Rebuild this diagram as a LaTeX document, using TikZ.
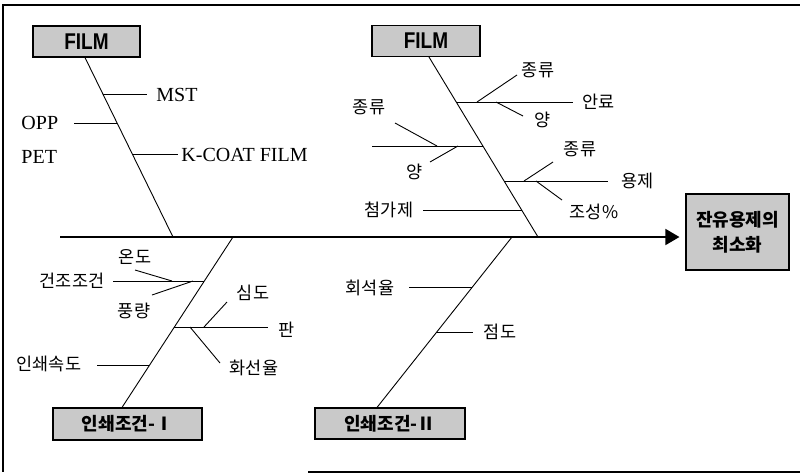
\documentclass[tikz,border=0pt]{standalone}
\usepackage{fontspec}
\setmainfont{Liberation Serif}
\newfontfamily\kr{Noto Sans CJK KR}
\newfontfamily\boxsans{Liberation Sans}
\usetikzlibrary{arrows.meta}
\begin{document}
\begin{tikzpicture}[x=1pt,y=-1pt,
  line width=0.9pt,
  kl/.style={font=\kr\fontsize{17.5}{19}\selectfont, inner sep=0pt},
  ll/.style={font=\fontsize{20}{22}\selectfont, inner sep=0pt},
  gbox/.style={draw, line width=1.1pt, fill=gray!42, inner sep=0pt},
  filmtxt/.style={font=\boxsans\bfseries\fontsize{19}{20}\selectfont},
  krbtxt/.style={font=\kr\bfseries\fontsize{18}{25}\selectfont},
  bone/.style={line width=0.9pt},
  spine/.style={line width=1.5pt, -{Triangle[length=14pt,width=16pt]}},
  frame/.style={line width=1.5pt}]
\useasboundingbox (0,0) rectangle (800,475);
% frame
\draw[frame] (800,5) -- (3,5) -- (3,472);
\draw[frame] (308,472) -- (800,472);
% boxes
\node[gbox, filmtxt, minimum width=107pt, minimum height=31pt] (f1) at (86.5,41.5) {\scalebox{1}[1.2]{FILM}};
\node[gbox, filmtxt, minimum width=108pt, minimum height=31pt] (f2) at (426,41) {\scalebox{1}[1.2]{FILM}};
\node[gbox, minimum width=103pt, minimum height=76pt, align=center, krbtxt] (res) at (737.5,232) {잔유용제의\\최소화};
\node[gbox, minimum width=149pt, minimum height=32pt, krbtxt] (p1) at (127.5,424) {인쇄조건-Ⅰ};
\node[gbox, minimum width=150pt, minimum height=31pt, krbtxt] (p2) at (390,423.5) {인쇄조건-Ⅱ};
% spine
\coordinate (sp0) at (60,237);
\draw[spine, shorten >=6pt] (sp0) -- (res.west |- sp0);
% bone ends on spine
\coordinate (s1) at (173,237);
\coordinate (s2) at (538,237);
\coordinate (s3) at (233,237);
\coordinate (s4) at (512,237);
\draw[bone] ([xshift=-1.5pt]f1.south) -- (s1);
\draw[bone] ([xshift=3pt]f2.south) -- (s2);
\draw[bone] ([xshift=-5.5pt]p1.north) -- (s3);
\draw[bone] ([xshift=-13pt]p2.north) -- (s4);

% ---- bone 1 (FILM left)
\node[ll, anchor=west] (mst) at (156,95) {MST};
\node[ll, anchor=west] (opp) at (21,123) {OPP};
\node[ll, anchor=west] (pet) at (21,157) {PET};
\node[ll, anchor=west] (kcoat) at (181,155) {K-COAT FILM};
\coordinate (b1a) at (103.1,94); \coordinate (e1a) at (147,94);
\coordinate (b1b) at (117.3,123); \coordinate (e1b) at (74,123);
\coordinate (b1c) at (132.4,154); \coordinate (e1c) at (178,154);
\draw (b1a) -- (e1a);
\draw (e1b) -- (b1b);
\draw (b1c) -- (e1c);

% ---- bone 2 (FILM middle)
% upper sub-branch
\coordinate (b2a) at (456.3,102); \coordinate (e2a) at (573,102);
\node[kl, anchor=west] (anryo) at (582,102) {안료};
\draw (b2a) -- (e2a);
\coordinate (d2a1) at (477,102); \coordinate (d2a1e) at (517,75);
\node[kl] (jong1) at (538,70) {종류};
\draw (d2a1) -- (d2a1e);
\coordinate (d2a2) at (496,102); \coordinate (d2a2e) at (523,116);
\node[kl] (yang1) at (543,120) {양};
\draw (d2a2) -- (d2a2e);
% middle sub-branch
\coordinate (b2b) at (482.9,146); \coordinate (e2b) at (372,146);
\draw (e2b) -- (b2b);
\coordinate (d2b1) at (437,146); \coordinate (d2b1e) at (395,123);
\node[kl] (jong2) at (369,107) {종류};
\draw (d2b1) -- (d2b1e);
\coordinate (d2b2) at (458,146); \coordinate (d2b2e) at (430,162);
\node[kl] (yang2) at (415,172) {양};
\draw (d2b2) -- (d2b2e);
% lower sub-branch
\coordinate (b2c) at (504.1,181); \coordinate (e2c) at (608,181);
\node[kl, anchor=west] (yongje) at (621,181) {용제};
\draw (b2c) -- (e2c);
\coordinate (d2c1) at (524,181); \coordinate (d2c1e) at (553,162);
\node[kl] (jong3) at (580,149) {종류};
\draw (d2c1) -- (d2c1e);
\coordinate (d2c2) at (536,181); \coordinate (d2c2e) at (562,200);
\node[kl] (joseong) at (594,212) {조성\%};
\draw (d2c2) -- (d2c2e);
% additive
\coordinate (b2d) at (521.7,210); \coordinate (e2d) at (423,210);
\node[kl] (cheom) at (389,210) {첨가제};
\draw (e2d) -- (b2d);

% ---- bone 3 (print cond I)
\coordinate (b3a) at (204.3,281); \coordinate (e3a) at (113,281);
\node[kl] (geonjo) at (72,281) {건조조건};
\draw (e3a) -- (b3a);
\coordinate (d3a1) at (172,281); \coordinate (d3a1e) at (135,270);
\node[kl] (ondo) at (135,257) {온도};
\draw (d3a1) -- (d3a1e);
\coordinate (d3a2) at (193,281); \coordinate (d3a2e) at (152,295);
\node[kl] (pung) at (134,311) {풍량};
\draw (d3a2) -- (d3a2e);
\coordinate (b3b) at (174.2,327); \coordinate (e3b) at (268,327);
\node[kl] (pan) at (287,330) {판};
\draw (b3b) -- (e3b);
\coordinate (d3b1) at (204,327); \coordinate (d3b1e) at (227,302);
\node[kl] (simdo) at (253,293) {심도};
\draw (d3b1) -- (d3b1e);
\coordinate (d3b2) at (190,327); \coordinate (d3b2e) at (220,363);
\node[kl] (hwaseon) at (254,368) {화선율};
\draw (d3b2) -- (d3b2e);
\coordinate (b3c) at (149.4,365); \coordinate (e3c) at (97,365);
\node[kl] (sokdo) at (49,364) {인쇄속도};
\draw (e3c) -- (b3c);

% ---- bone 4 (print cond II)
\coordinate (b4a) at (472.3,287); \coordinate (e4a) at (409,287);
\node[kl] (hoeseok) at (370,288) {회석율};
\draw (e4a) -- (b4a);
\coordinate (b4b) at (436.6,332); \coordinate (e4b) at (473,332);
\node[kl] (jeomdo) at (500,332) {점도};
\draw (b4b) -- (e4b);
\end{tikzpicture}
\end{document}
